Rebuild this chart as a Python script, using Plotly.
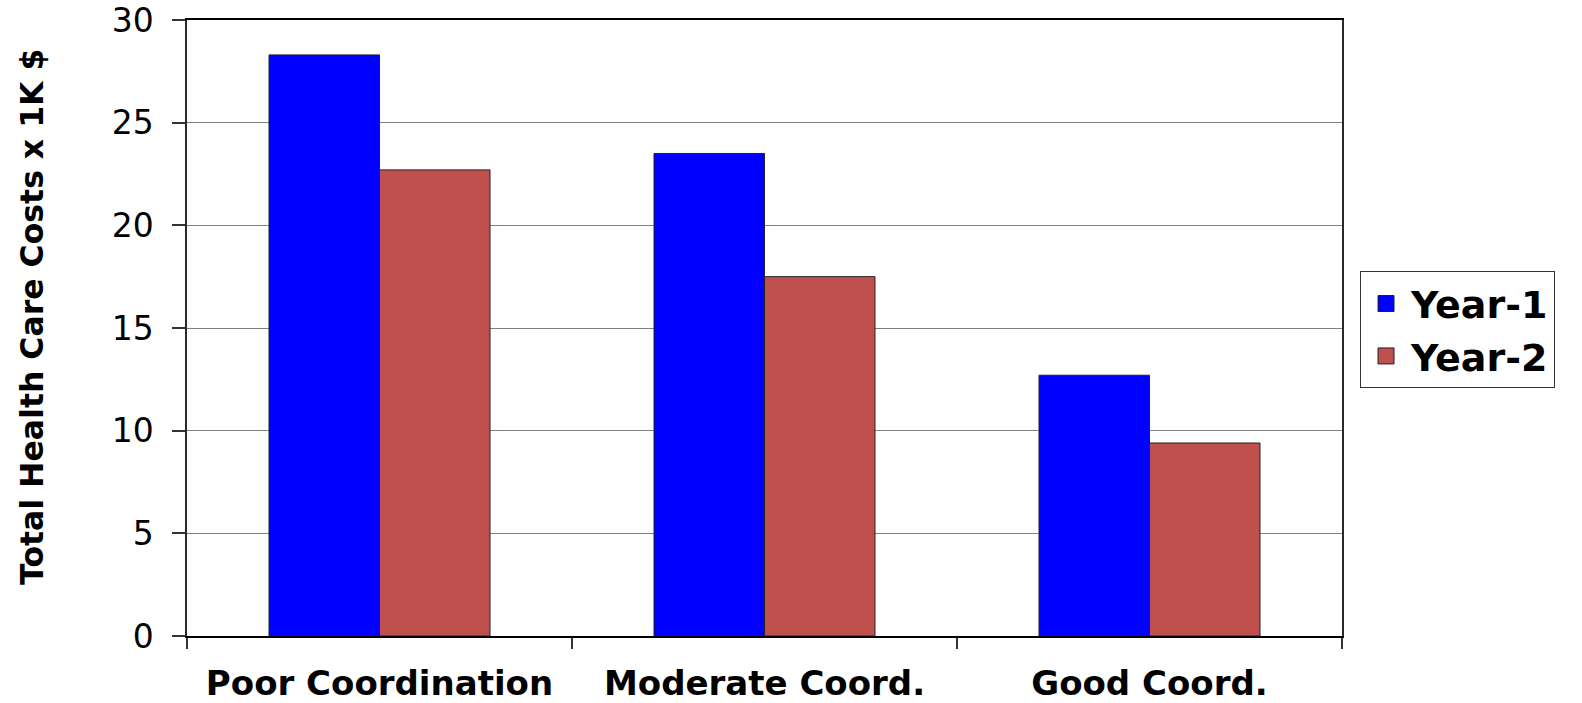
import plotly.graph_objects as go

# Health-care cost data (thousands of dollars)
categories = ["Poor Coordination", "Moderate Coord.", "Good Coord."]
year1 = [28.3, 23.5, 12.7]
year2 = [22.7, 17.5, 9.4]
y_ticks = [0, 5, 10, 15, 20, 25, 30]

series = [("Year-1", year1, "#0000FF"), ("Year-2", year2, "#C0504D")]

FONT = "DejaVu Sans, Arial, sans-serif"

fig = go.Figure()
for name, values, color in series:
    fig.add_trace(go.Bar(
        name=name, x=categories, y=values, legendgroup=name, showlegend=False,
        marker=dict(color=color, line=dict(color="#222222", width=1)),
    ))
# legend keys: larger square swatches than the default bar symbol
for name, values, color in series:
    fig.add_trace(go.Scatter(
        name=name, x=[None], y=[None], mode="markers", legendgroup=name,
        marker=dict(symbol="square", size=16, color=color,
                    line=dict(color="#222222", width=1)),
    ))

fig.update_layout(
    width=1582, height=703,
    margin=dict(l=187, r=240, t=20, b=67, autoexpand=False),
    paper_bgcolor="white", plot_bgcolor="white",
    barmode="group", bargap=0.426, bargroupgap=0,
    font=dict(family=FONT, color="black"),
    showlegend=True,
    legend=dict(
        x=1.0156, xanchor="left", y=0.592, yanchor="top",
        bgcolor="white", bordercolor="#333333", borderwidth=1,
        font=dict(family=FONT, size=38, color="black", weight="bold"),
        itemwidth=40, tracegroupgap=0, itemsizing="trace",
    ),
)

fig.update_xaxes(
    type="category",
    showline=True, linecolor="black", linewidth=1.5, mirror=True,
    ticks="outside", tickson="boundaries", ticklen=11, tickwidth=1.5, tickcolor="#333333",
    tickfont=dict(family=FONT, size=34, color="black", weight="bold"),
    ticklabelstandoff=16,
    showgrid=False, zeroline=False,
)
fig.update_yaxes(
    range=[0, 30], tickvals=y_ticks,
    showline=True, linecolor="#2a2a2a", linewidth=1.5, mirror=True,
    ticks="outside", ticklen=13, tickwidth=1.5, tickcolor="#333333",
    tickfont=dict(family=FONT, size=33, color="black"),
    ticklabelstandoff=12,
    showgrid=True, gridcolor="#808080", gridwidth=1,
    zeroline=False,
)

fig.add_annotation(
    text="Total Health Care Costs x 1K $",
    xref="paper", yref="paper", x=-0.1342, y=0.518,
    xanchor="center", yanchor="middle", textangle=-90, showarrow=False,
    font=dict(family=FONT, size=31.5, color="black", weight="bold"),
)

fig.write_html("out.html")
